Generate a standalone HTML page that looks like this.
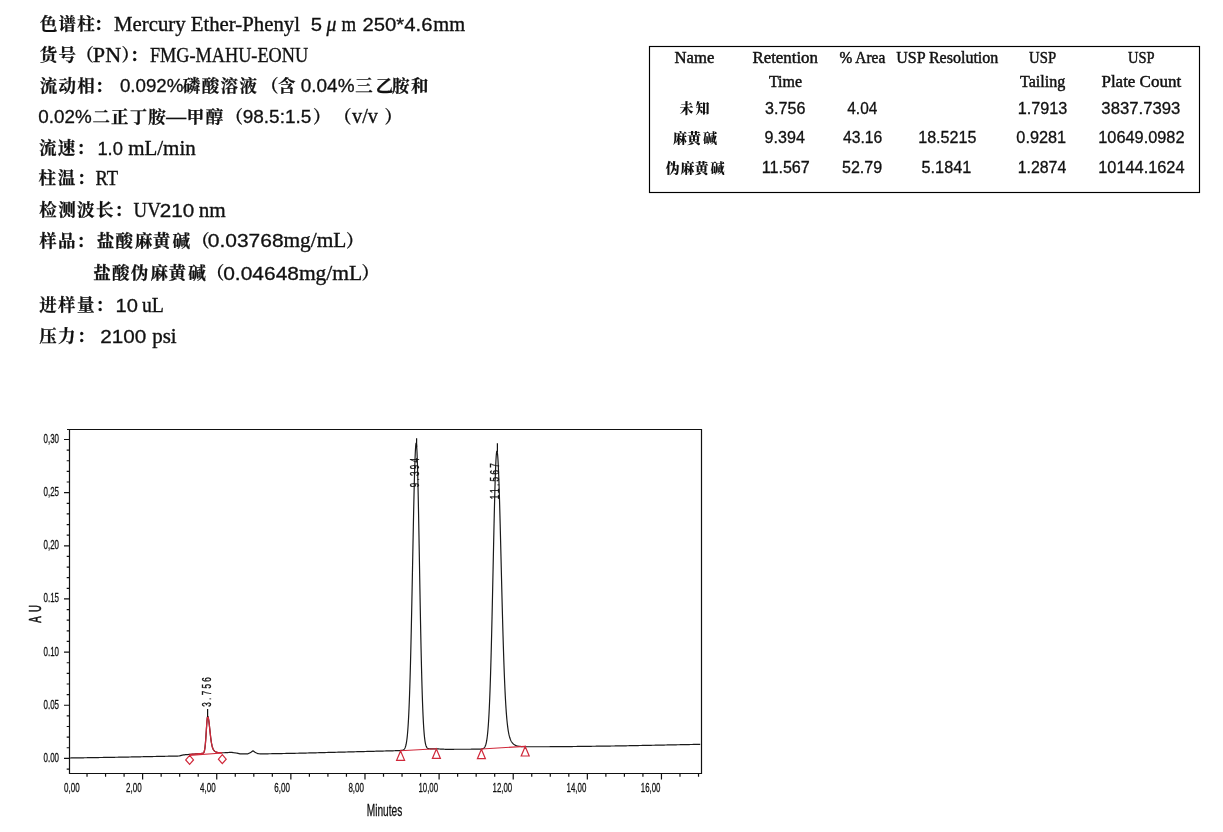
<!DOCTYPE html>
<html><head><meta charset="utf-8">
<style>
html,body{margin:0;padding:0;background:#fff;}
body{width:1223px;height:832px;position:relative;overflow:hidden;}
svg{position:absolute;left:0;top:0;}
.cj{font-family:"Noto Serif CJK SC",serif;font-size:17.5px;font-weight:700;fill:#111;stroke:#111;stroke-width:0.25px;}
.lt{font-family:"Liberation Serif",serif;font-size:20.5px;fill:#111;stroke:#111;stroke-width:0.35px;}
.it{font-style:italic;}
.ln{font-family:"Liberation Sans",sans-serif;font-size:19px;fill:#111;stroke:#111;stroke-width:0.3px;}
.tl{font-family:"Liberation Serif",serif;font-size:16px;fill:#111;stroke:#111;stroke-width:0.45px;}
.tn{font-family:"Liberation Sans",sans-serif;font-size:16px;fill:#111;stroke:#111;stroke-width:0.3px;}
.tc{font-family:"Noto Serif CJK SC",serif;font-size:14px;font-weight:900;fill:#111;}
.ax{font-family:"Liberation Sans",sans-serif;font-size:12.9px;fill:#111;stroke:#111;stroke-width:0.3px;}
.ax2{font-family:"Liberation Sans",sans-serif;font-size:17px;fill:#111;stroke:#111;stroke-width:0.3px;}
.ax3{font-family:"Liberation Sans",sans-serif;font-size:17.2px;fill:#111;stroke:#111;stroke-width:0.55px;}
.pk{font-family:"Liberation Sans",sans-serif;font-size:13px;fill:#111;stroke:#111;stroke-width:0.35px;}
</style></head><body>
<svg width="1223" height="832" viewBox="0 0 1223 832">
<text x="39.70" y="29.90" class="cj">色</text>
<text x="58.45" y="29.90" class="cj">谱</text>
<text x="77.20" y="29.90" class="cj">柱</text>
<text x="94.10" y="29.90" class="cj">：</text>
<text x="114.09" y="30.60" class="lt" textLength="185.89" lengthAdjust="spacingAndGlyphs">Mercury Ether-Phenyl</text>
<text x="310.83" y="30.60" class="ln" textLength="11.28" lengthAdjust="spacingAndGlyphs">5</text>
<text x="326.60" y="30.60" class="lt it" textLength="9.88" lengthAdjust="spacingAndGlyphs">μ</text>
<text x="341.40" y="30.60" class="lt" textLength="14.66" lengthAdjust="spacingAndGlyphs">m</text>
<text x="362.53" y="30.60" class="ln" textLength="69.92" lengthAdjust="spacingAndGlyphs">250*4.6</text>
<text x="433.30" y="30.60" class="lt" textLength="31.81" lengthAdjust="spacingAndGlyphs">mm</text>
<text x="39.70" y="60.90" class="cj">货</text>
<text x="58.45" y="60.90" class="cj">号</text>
<text x="76.30" y="60.90" class="cj">（</text>
<text x="92.82" y="61.60" class="lt" textLength="28.32" lengthAdjust="spacingAndGlyphs">PN</text>
<text x="121.50" y="60.90" class="cj">）</text>
<text x="130.00" y="60.90" class="cj">：</text>
<text x="149.91" y="61.60" class="lt" textLength="158.19" lengthAdjust="spacingAndGlyphs">FMG-MAHU-EONU</text>
<text x="39.70" y="91.50" class="cj">流</text>
<text x="58.45" y="91.50" class="cj">动</text>
<text x="77.20" y="91.50" class="cj">相</text>
<text x="95.00" y="91.50" class="cj">：</text>
<text x="119.91" y="92.20" class="ln" textLength="63.53" lengthAdjust="spacingAndGlyphs">0.092%</text>
<text x="182.80" y="91.50" class="cj">磷</text>
<text x="201.70" y="91.50" class="cj">酸</text>
<text x="220.60" y="91.50" class="cj">溶</text>
<text x="239.50" y="91.50" class="cj">液</text>
<text x="261.00" y="91.50" class="cj">（</text>
<text x="278.00" y="91.50" class="cj">含</text>
<text x="300.80" y="92.20" class="ln" textLength="53.67" lengthAdjust="spacingAndGlyphs">0.04%</text>
<text x="355.20" y="91.50" class="cj">三</text>
<text x="375.80" y="91.50" class="cj">乙</text>
<text x="392.10" y="91.50" class="cj">胺</text>
<text x="411.00" y="91.50" class="cj">和</text>
<text x="38.31" y="123.20" class="ln" textLength="53.36" lengthAdjust="spacingAndGlyphs">0.02%</text>
<text x="92.40" y="122.50" class="cj">二</text>
<text x="111.05" y="122.50" class="cj">正</text>
<text x="129.70" y="122.50" class="cj">丁</text>
<text x="148.35" y="122.50" class="cj">胺</text>
<text x="165.03" y="122.50" class="cj" textLength="22.32" lengthAdjust="spacingAndGlyphs">—</text>
<text x="186.70" y="122.50" class="cj">甲</text>
<text x="205.70" y="122.50" class="cj">醇</text>
<text x="225.50" y="122.50" class="cj">（</text>
<text x="242.70" y="123.20" class="ln" textLength="68.67" lengthAdjust="spacingAndGlyphs">98.5:1.5</text>
<text x="313.00" y="122.50" class="cj">）</text>
<text x="334.00" y="122.50" class="cj">（</text>
<text x="352.00" y="123.20" class="lt" textLength="25.90" lengthAdjust="spacingAndGlyphs">v/v</text>
<text x="384.40" y="122.50" class="cj">）</text>
<text x="39.10" y="154.10" class="cj">流</text>
<text x="57.70" y="154.10" class="cj">速</text>
<text x="76.60" y="154.10" class="cj">：</text>
<text x="97.44" y="154.80" class="ln" textLength="25.47" lengthAdjust="spacingAndGlyphs">1.0</text>
<text x="128.20" y="154.80" class="lt" textLength="67.56" lengthAdjust="spacingAndGlyphs">mL/min</text>
<text x="38.50" y="184.30" class="cj">柱</text>
<text x="57.70" y="184.30" class="cj">温</text>
<text x="77.00" y="184.30" class="cj">：</text>
<text x="95.40" y="185.00" class="lt" textLength="22.58" lengthAdjust="spacingAndGlyphs">RT</text>
<text x="39.20" y="216.00" class="cj">检</text>
<text x="58.15" y="216.00" class="cj">测</text>
<text x="77.10" y="216.00" class="cj">波</text>
<text x="96.05" y="216.00" class="cj">长</text>
<text x="114.60" y="216.00" class="cj">：</text>
<text x="133.58" y="216.70" class="lt" textLength="27.18" lengthAdjust="spacingAndGlyphs">UV</text>
<text x="159.71" y="216.70" class="ln" textLength="34.45" lengthAdjust="spacingAndGlyphs">210</text>
<text x="198.67" y="216.70" class="lt" textLength="27.04" lengthAdjust="spacingAndGlyphs">nm</text>
<text x="39.20" y="246.50" class="cj">样</text>
<text x="58.00" y="246.50" class="cj">品</text>
<text x="76.60" y="246.50" class="cj">：</text>
<text x="96.70" y="246.50" class="cj">盐</text>
<text x="115.40" y="246.50" class="cj">酸</text>
<text x="135.10" y="246.50" class="cj">麻</text>
<text x="152.80" y="246.50" class="cj">黄</text>
<text x="172.50" y="246.50" class="cj">碱</text>
<text x="191.90" y="246.50" class="cj">（</text>
<text x="207.80" y="247.20" class="ln" textLength="75.76" lengthAdjust="spacingAndGlyphs">0.03768</text>
<text x="283.50" y="247.20" class="lt" textLength="62.92" lengthAdjust="spacingAndGlyphs">mg/mL</text>
<text x="346.10" y="246.50" class="cj">）</text>
<text x="93.20" y="279.30" class="cj">盐</text>
<text x="112.00" y="279.30" class="cj">酸</text>
<text x="130.80" y="279.30" class="cj">伪</text>
<text x="150.60" y="279.30" class="cj">麻</text>
<text x="168.40" y="279.30" class="cj">黄</text>
<text x="188.20" y="279.30" class="cj">碱</text>
<text x="206.70" y="279.30" class="cj">（</text>
<text x="223.20" y="280.00" class="ln" textLength="75.76" lengthAdjust="spacingAndGlyphs">0.04648</text>
<text x="298.90" y="280.00" class="lt" textLength="63.33" lengthAdjust="spacingAndGlyphs">mg/mL</text>
<text x="361.60" y="279.30" class="cj">）</text>
<text x="39.20" y="311.10" class="cj">进</text>
<text x="58.05" y="311.10" class="cj">样</text>
<text x="76.90" y="311.10" class="cj">量</text>
<text x="95.50" y="311.10" class="cj">：</text>
<text x="115.64" y="311.80" class="ln" textLength="22.36" lengthAdjust="spacingAndGlyphs">10</text>
<text x="141.90" y="311.80" class="lt" textLength="21.95" lengthAdjust="spacingAndGlyphs">uL</text>
<text x="39.20" y="342.00" class="cj">压</text>
<text x="58.00" y="342.00" class="cj">力</text>
<text x="77.00" y="342.00" class="cj">：</text>
<text x="100.21" y="342.70" class="ln" textLength="45.99" lengthAdjust="spacingAndGlyphs">2100</text>
<text x="152.20" y="342.70" class="lt" textLength="24.46" lengthAdjust="spacingAndGlyphs">psi</text>
<rect x="649.5" y="46.5" width="550" height="146" fill="none" stroke="#000" stroke-width="1.15"/>
<text x="674.56" y="62.7" class="tl" textLength="39.75" lengthAdjust="spacingAndGlyphs">Name</text>
<text x="752.45" y="62.7" class="tl" textLength="65.48" lengthAdjust="spacingAndGlyphs">Retention</text>
<text x="839.60" y="62.7" class="tl" textLength="45.61" lengthAdjust="spacingAndGlyphs">% Area</text>
<text x="896.20" y="62.7" class="tl" textLength="102.09" lengthAdjust="spacingAndGlyphs">USP Resolution</text>
<text x="1029.10" y="62.7" class="tl" textLength="27.03" lengthAdjust="spacingAndGlyphs">USP</text>
<text x="1128.00" y="62.7" class="tl" textLength="26.52" lengthAdjust="spacingAndGlyphs">USP</text>
<text x="768.90" y="87.1" class="tl" textLength="33.20" lengthAdjust="spacingAndGlyphs">Time</text>
<text x="1020.00" y="87.1" class="tl" textLength="45.29" lengthAdjust="spacingAndGlyphs">Tailing</text>
<text x="1101.44" y="87.1" class="tl" textLength="79.68" lengthAdjust="spacingAndGlyphs">Plate Count</text>
<text x="765.09" y="113.6" class="tn" textLength="40.25" lengthAdjust="spacingAndGlyphs">3.756</text>
<text x="847.30" y="113.6" class="tn" textLength="29.94" lengthAdjust="spacingAndGlyphs">4.04</text>
<text x="1017.69" y="113.6" class="tn" textLength="49.56" lengthAdjust="spacingAndGlyphs">1.7913</text>
<text x="1101.36" y="113.6" class="tn" textLength="78.91" lengthAdjust="spacingAndGlyphs">3837.7393</text>
<text x="764.59" y="143.4" class="tn" textLength="40.25" lengthAdjust="spacingAndGlyphs">9.394</text>
<text x="843.00" y="143.4" class="tn" textLength="39.25" lengthAdjust="spacingAndGlyphs">43.16</text>
<text x="918.19" y="143.4" class="tn" textLength="58.15" lengthAdjust="spacingAndGlyphs">18.5215</text>
<text x="1016.38" y="143.4" class="tn" textLength="49.77" lengthAdjust="spacingAndGlyphs">0.9281</text>
<text x="1098.28" y="143.4" class="tn" textLength="86.26" lengthAdjust="spacingAndGlyphs">10649.0982</text>
<text x="761.69" y="172.9" class="tn" textLength="48.06" lengthAdjust="spacingAndGlyphs">11.567</text>
<text x="841.99" y="172.9" class="tn" textLength="40.25" lengthAdjust="spacingAndGlyphs">52.79</text>
<text x="921.59" y="172.9" class="tn" textLength="49.67" lengthAdjust="spacingAndGlyphs">5.1841</text>
<text x="1017.71" y="172.9" class="tn" textLength="48.53" lengthAdjust="spacingAndGlyphs">1.2874</text>
<text x="1098.28" y="172.9" class="tn" textLength="86.26" lengthAdjust="spacingAndGlyphs">10144.1624</text>
<text x="679.40" y="113.30" class="tc">未</text>
<text x="695.50" y="113.30" class="tc">知</text>
<text x="672.90" y="143.10" class="tc">麻</text>
<text x="687.00" y="143.10" class="tc">黄</text>
<text x="703.10" y="143.10" class="tc">碱</text>
<text x="665.60" y="172.60" class="tc">伪</text>
<text x="680.53" y="172.60" class="tc">麻</text>
<text x="694.47" y="172.60" class="tc">黄</text>
<text x="710.40" y="172.60" class="tc">碱</text>
<path d="M67.0,429.5 H701.5 V773.5 H69.5 V429.5" fill="none" stroke="#111" stroke-width="1.2"/>
<path d="M66.7,769.03 H69.5 M64.0,758.40 H69.5 M66.7,747.77 H69.5 M66.7,737.14 H69.5 M66.7,726.51 H69.5 M66.7,715.88 H69.5 M64.0,705.25 H69.5 M66.7,694.62 H69.5 M66.7,683.99 H69.5 M66.7,673.36 H69.5 M66.7,662.73 H69.5 M64.0,652.10 H69.5 M66.7,641.47 H69.5 M66.7,630.84 H69.5 M66.7,620.21 H69.5 M66.7,609.58 H69.5 M64.0,598.95 H69.5 M66.7,588.32 H69.5 M66.7,577.69 H69.5 M66.7,567.06 H69.5 M66.7,556.43 H69.5 M64.0,545.80 H69.5 M66.7,535.17 H69.5 M66.7,524.54 H69.5 M66.7,513.91 H69.5 M66.7,503.28 H69.5 M64.0,492.65 H69.5 M66.7,482.02 H69.5 M66.7,471.39 H69.5 M66.7,460.76 H69.5 M66.7,450.13 H69.5 M64.0,439.50 H69.5 M87.03,773.5 V776.7 M105.56,773.5 V776.7 M124.09,773.5 V776.7 M142.62,773.5 V779.5 M161.15,773.5 V776.7 M179.68,773.5 V776.7 M198.21,773.5 V776.7 M216.74,773.5 V779.5 M235.27,773.5 V776.7 M253.80,773.5 V776.7 M272.33,773.5 V776.7 M290.86,773.5 V779.5 M309.39,773.5 V776.7 M327.92,773.5 V776.7 M346.45,773.5 V776.7 M364.98,773.5 V779.5 M383.51,773.5 V776.7 M402.04,773.5 V776.7 M420.57,773.5 V776.7 M439.10,773.5 V779.5 M457.63,773.5 V776.7 M476.16,773.5 V776.7 M494.69,773.5 V776.7 M513.22,773.5 V779.5 M531.75,773.5 V776.7 M550.28,773.5 V776.7 M568.81,773.5 V776.7 M587.34,773.5 V779.5 M605.87,773.5 V776.7 M624.40,773.5 V776.7 M642.93,773.5 V776.7 M661.46,773.5 V779.5 M679.99,773.5 V776.7 M698.52,773.5 V776.7" fill="none" stroke="#111" stroke-width="1.2"/>
<text x="59" y="442.9" text-anchor="end" class="ax" textLength="15.5" lengthAdjust="spacingAndGlyphs">0,30</text>
<text x="59" y="496.0" text-anchor="end" class="ax" textLength="15.5" lengthAdjust="spacingAndGlyphs">0,25</text>
<text x="59" y="549.2" text-anchor="end" class="ax" textLength="15.5" lengthAdjust="spacingAndGlyphs">0,20</text>
<text x="59" y="602.4" text-anchor="end" class="ax" textLength="15.5" lengthAdjust="spacingAndGlyphs">0.15</text>
<text x="59" y="655.5" text-anchor="end" class="ax" textLength="15.5" lengthAdjust="spacingAndGlyphs">0.10</text>
<text x="59" y="708.6" text-anchor="end" class="ax" textLength="15.5" lengthAdjust="spacingAndGlyphs">0.05</text>
<text x="59" y="761.8" text-anchor="end" class="ax" textLength="15.5" lengthAdjust="spacingAndGlyphs">0.00</text>
<text x="79.6" y="792.3" text-anchor="end" class="ax" textLength="15.6" lengthAdjust="spacingAndGlyphs">0,00</text>
<text x="141.6" y="792.3" text-anchor="end" class="ax" textLength="15.6" lengthAdjust="spacingAndGlyphs">2,00</text>
<text x="215.7" y="792.3" text-anchor="end" class="ax" textLength="15.6" lengthAdjust="spacingAndGlyphs">4,00</text>
<text x="289.9" y="792.3" text-anchor="end" class="ax" textLength="15.6" lengthAdjust="spacingAndGlyphs">6,00</text>
<text x="364.0" y="792.3" text-anchor="end" class="ax" textLength="15.6" lengthAdjust="spacingAndGlyphs">8,00</text>
<text x="438.1" y="792.3" text-anchor="end" class="ax" textLength="19.7" lengthAdjust="spacingAndGlyphs">10,00</text>
<text x="512.2" y="792.3" text-anchor="end" class="ax" textLength="19.7" lengthAdjust="spacingAndGlyphs">12,00</text>
<text x="586.3" y="792.3" text-anchor="end" class="ax" textLength="19.7" lengthAdjust="spacingAndGlyphs">14,00</text>
<text x="660.5" y="792.3" text-anchor="end" class="ax" textLength="19.7" lengthAdjust="spacingAndGlyphs">16,00</text>
<text x="384.5" y="815.6" text-anchor="middle" class="ax2" textLength="35.5" lengthAdjust="spacingAndGlyphs">Minutes</text>
<text transform="translate(40.7,613.9) rotate(-90) scale(0.56,1)" text-anchor="middle" class="ax3" textLength="31.6" lengthAdjust="spacing">A U</text>
<path d="M69.50,758.00 L70.50,757.98 L71.50,757.97 L72.50,757.95 L73.50,757.94 L74.50,757.92 L75.50,757.90 L76.50,757.89 L77.50,757.87 L78.50,757.86 L79.50,757.84 L80.50,757.83 L81.50,757.81 L82.50,757.79 L83.50,757.78 L84.50,757.76 L85.50,757.75 L86.50,757.73 L87.50,757.71 L88.50,757.70 L89.50,757.68 L90.50,757.67 L91.50,757.65 L92.50,757.64 L93.50,757.62 L94.50,757.60 L95.50,757.59 L96.50,757.57 L97.50,757.56 L98.50,757.54 L99.50,757.52 L100.50,757.51 L101.50,757.49 L102.50,757.48 L103.50,757.46 L104.50,757.45 L105.50,757.43 L106.50,757.41 L107.50,757.40 L108.50,757.38 L109.50,757.37 L110.50,757.35 L111.50,757.33 L112.50,757.32 L113.50,757.30 L114.50,757.29 L115.50,757.27 L116.50,757.26 L117.50,757.24 L118.50,757.22 L119.50,757.21 L120.50,757.19 L121.50,757.17 L122.50,757.15 L123.50,757.13 L124.50,757.11 L125.50,757.09 L126.50,757.07 L127.50,757.05 L128.50,757.03 L129.50,757.01 L130.50,756.99 L131.50,756.97 L132.50,756.95 L133.50,756.93 L134.50,756.91 L135.50,756.88 L136.50,756.86 L137.50,756.84 L138.50,756.82 L139.50,756.80 L140.50,756.78 L141.50,756.76 L142.50,756.74 L143.50,756.72 L144.50,756.70 L145.50,756.68 L146.50,756.66 L147.50,756.64 L148.50,756.62 L149.50,756.60 L150.50,756.58 L151.50,756.56 L152.50,756.54 L153.50,756.52 L154.50,756.50 L155.50,756.48 L156.50,756.46 L157.50,756.44 L158.50,756.42 L159.50,756.40 L160.50,756.38 L161.50,756.36 L162.50,756.34 L163.50,756.32 L164.50,756.29 L165.50,756.27 L166.50,756.25 L167.50,756.23 L168.50,756.21 L169.50,756.19 L170.50,756.17 L171.50,756.15 L172.50,756.13 L173.50,756.11 L174.50,756.09 L175.50,756.07 L176.50,756.05 L177.50,756.03 L178.50,756.01 L179.50,755.86 L180.50,755.59 L181.50,755.31 L182.50,755.04 L183.50,754.86 L184.50,754.79 L185.50,754.71 L185.75,754.69 L186.00,754.67 L186.25,754.65 L186.50,754.63 L186.75,754.61 L187.00,754.60 L187.25,754.58 L187.50,754.56 L187.75,754.54 L188.00,754.52 L188.25,754.50 L188.50,754.48 L188.75,754.46 L189.00,754.44 L189.25,754.42 L189.50,754.40 L189.75,754.39 L190.00,754.37 L190.25,754.35 L190.50,754.33 L190.75,754.31 L191.00,754.29 L191.25,754.27 L191.50,754.25 L191.75,754.23 L192.00,754.21 L192.25,754.20 L192.50,754.18 L192.75,754.16 L193.00,754.14 L193.25,754.12 L193.50,754.10 L193.75,754.08 L194.00,754.06 L194.25,754.04 L194.50,754.02 L194.75,754.00 L195.00,753.99 L195.25,753.97 L195.50,753.95 L195.75,753.93 L196.00,753.91 L196.25,753.89 L196.50,753.87 L196.75,753.85 L197.00,753.83 L197.25,753.81 L197.50,753.80 L197.75,753.78 L198.00,753.76 L198.25,753.74 L198.50,753.72 L198.75,753.70 L199.00,753.68 L199.25,753.66 L199.50,753.64 L199.75,753.62 L200.00,753.60 L200.25,753.59 L200.50,753.57 L200.75,753.55 L201.00,753.53 L201.25,753.51 L201.50,753.49 L201.75,753.47 L202.00,753.44 L202.25,753.41 L202.50,753.37 L202.75,753.32 L203.00,753.24 L203.25,753.11 L203.50,752.91 L203.75,752.60 L204.00,752.13 L204.25,751.46 L204.50,750.50 L204.75,749.17 L205.00,747.41 L205.25,745.16 L205.50,742.39 L205.75,739.14 L206.00,735.50 L206.25,731.60 L206.50,727.67 L206.75,723.96 L207.00,720.76 L207.25,718.32 L207.50,716.87 L207.75,716.51 L208.00,716.83 L208.25,717.61 L208.50,718.81 L208.75,720.37 L209.00,722.24 L209.25,724.35 L209.50,726.62 L209.75,728.98 L210.00,731.35 L210.25,733.67 L210.50,735.89 L210.75,737.97 L211.00,739.89 L211.25,741.62 L211.50,743.15 L211.75,744.50 L212.00,745.67 L212.25,746.67 L212.50,747.52 L212.75,748.25 L213.00,748.86 L213.25,749.37 L213.50,749.81 L213.75,750.18 L214.00,750.50 L214.25,750.78 L214.50,751.02 L214.75,751.23 L215.00,751.41 L215.25,751.58 L215.50,751.72 L215.75,751.85 L216.00,751.97 L216.25,752.08 L216.50,752.17 L216.75,752.26 L217.00,752.34 L217.25,752.40 L217.50,752.46 L217.75,752.51 L218.00,752.56 L218.25,752.60 L218.50,752.63 L218.75,752.66 L219.00,752.68 L219.25,752.70 L219.50,752.72 L219.75,752.73 L220.00,752.74 L220.25,752.75 L220.50,752.76 L220.75,752.76 L221.00,752.76 L221.25,752.77 L221.50,752.77 L221.75,752.77 L222.00,752.76 L222.25,752.76 L222.50,752.76 L222.75,752.76 L223.00,752.75 L223.25,752.75 L223.50,752.75 L223.75,752.74 L224.00,752.74 L224.25,752.73 L224.50,752.73 L224.75,752.72 L225.00,752.72 L225.25,752.71 L225.50,752.71 L225.75,752.70 L226.00,752.70 L226.25,752.68 L226.50,752.66 L226.75,752.64 L227.00,752.62 L227.25,752.60 L227.50,752.58 L227.75,752.56 L228.00,752.54 L228.25,752.52 L228.50,752.50 L228.75,752.48 L229.00,752.46 L229.25,752.44 L229.50,752.42 L229.75,752.40 L230.00,752.38 L231.00,752.30 L232.00,752.44 L233.00,752.58 L234.00,752.72 L235.00,752.86 L236.00,753.00 L237.00,753.20 L238.00,753.40 L239.00,753.60 L240.00,753.80 L241.00,753.80 L242.00,753.80 L243.00,753.80 L244.00,753.80 L245.00,753.80 L246.00,753.80 L247.00,753.80 L248.00,753.80 L249.00,753.32 L250.00,752.84 L251.00,752.24 L252.00,751.52 L253.00,750.80 L254.00,751.52 L255.00,752.24 L256.00,752.82 L257.00,753.26 L258.00,753.70 L259.00,753.75 L260.00,753.80 L261.00,753.85 L262.00,753.90 L263.00,753.88 L264.00,753.86 L265.00,753.84 L266.00,753.83 L267.00,753.81 L268.00,753.79 L269.00,753.77 L270.00,753.75 L271.00,753.73 L272.00,753.72 L273.00,753.70 L274.00,753.68 L275.00,753.66 L276.00,753.64 L277.00,753.62 L278.00,753.61 L279.00,753.59 L280.00,753.57 L281.00,753.55 L282.00,753.53 L283.00,753.51 L284.00,753.49 L285.00,753.48 L286.00,753.46 L287.00,753.44 L288.00,753.42 L289.00,753.40 L290.00,753.38 L291.00,753.37 L292.00,753.35 L293.00,753.33 L294.00,753.31 L295.00,753.29 L296.00,753.27 L297.00,753.26 L298.00,753.24 L299.00,753.22 L300.00,753.20 L301.00,753.17 L302.00,753.15 L303.00,753.12 L304.00,753.10 L305.00,753.07 L306.00,753.04 L307.00,753.02 L308.00,752.99 L309.00,752.97 L310.00,752.94 L311.00,752.91 L312.00,752.89 L313.00,752.86 L314.00,752.84 L315.00,752.81 L316.00,752.78 L317.00,752.76 L318.00,752.73 L319.00,752.71 L320.00,752.68 L321.00,752.65 L322.00,752.63 L323.00,752.60 L324.00,752.58 L325.00,752.55 L326.00,752.52 L327.00,752.50 L328.00,752.47 L329.00,752.45 L330.00,752.42 L331.00,752.39 L332.00,752.37 L333.00,752.34 L334.00,752.32 L335.00,752.29 L336.00,752.26 L337.00,752.24 L338.00,752.21 L339.00,752.19 L340.00,752.16 L341.00,752.13 L342.00,752.11 L343.00,752.08 L344.00,752.06 L345.00,752.03 L346.00,752.00 L347.00,751.98 L348.00,751.95 L349.00,751.93 L350.00,751.90 L351.00,751.87 L352.00,751.85 L353.00,751.82 L354.00,751.80 L355.00,751.77 L356.00,751.74 L357.00,751.72 L358.00,751.69 L359.00,751.67 L360.00,751.64 L361.00,751.61 L362.00,751.59 L363.00,751.56 L364.00,751.54 L365.00,751.51 L366.00,751.48 L367.00,751.46 L368.00,751.43 L369.00,751.41 L370.00,751.38 L371.00,751.35 L372.00,751.33 L373.00,751.30 L374.00,751.28 L375.00,751.25 L376.00,751.22 L377.00,751.20 L378.00,751.17 L379.00,751.15 L380.00,751.12 L381.00,751.09 L382.00,751.07 L383.00,751.04 L384.00,751.02 L385.00,750.99 L386.00,750.96 L387.00,750.94 L388.00,750.91 L389.00,750.89 L390.00,750.86 L391.00,750.83 L392.00,750.81 L393.00,750.78 L394.00,750.76 L394.25,750.75 L394.50,750.74 L394.75,750.74 L395.00,750.73 L395.25,750.72 L395.50,750.72 L395.75,750.71 L396.00,750.70 L396.25,750.70 L396.50,750.69 L396.75,750.68 L397.00,750.68 L397.25,750.67 L397.50,750.66 L397.75,750.66 L398.00,750.65 L398.25,750.64 L398.50,750.64 L398.75,750.63 L399.00,750.62 L399.25,750.61 L399.50,750.61 L399.75,750.60 L400.00,750.59 L400.25,750.57 L400.50,750.55 L400.75,750.52 L401.00,750.50 L401.25,750.47 L401.50,750.44 L401.75,750.40 L402.00,750.35 L402.25,750.30 L402.50,750.23 L402.75,750.15 L403.00,750.06 L403.25,749.94 L403.50,749.79 L403.75,749.61 L404.00,749.39 L404.25,749.12 L404.50,748.79 L404.75,748.39 L405.00,747.90 L405.25,747.31 L405.50,746.61 L405.75,745.76 L406.00,744.75 L406.25,743.56 L406.50,742.14 L406.75,740.49 L407.00,738.56 L407.25,736.31 L407.50,733.72 L407.75,730.74 L408.00,727.33 L408.25,723.47 L408.50,719.10 L408.75,714.20 L409.00,708.72 L409.25,702.65 L409.50,695.95 L409.75,688.60 L410.00,680.59 L410.25,671.93 L410.50,662.61 L410.75,652.65 L411.00,642.08 L411.25,630.95 L411.50,619.30 L411.75,607.21 L412.00,594.75 L412.25,582.02 L412.50,569.12 L412.75,556.18 L413.00,543.31 L413.25,530.65 L413.50,518.34 L413.75,506.52 L414.00,495.32 L414.25,484.90 L414.50,475.39 L414.75,466.90 L415.00,459.56 L415.25,453.47 L415.50,448.70 L415.75,445.34 L416.00,443.42 L416.25,442.99 L416.50,444.26 L416.75,447.30 L417.00,452.06 L417.25,458.47 L417.50,466.40 L417.75,475.73 L418.00,486.31 L418.25,497.96 L418.50,510.50 L418.75,523.74 L419.00,537.50 L419.25,551.58 L419.50,565.81 L419.75,580.01 L420.00,594.02 L420.25,607.71 L420.50,620.95 L420.75,633.63 L421.00,645.66 L421.25,656.99 L421.50,667.55 L421.75,677.33 L422.00,686.31 L422.25,694.48 L422.50,701.87 L422.75,708.50 L423.00,714.40 L423.25,719.62 L423.50,724.20 L423.75,728.19 L424.00,731.64 L424.25,734.60 L424.50,737.13 L424.75,739.27 L425.00,741.07 L425.25,742.58 L425.50,743.83 L425.75,744.85 L426.00,745.69 L426.25,746.37 L426.50,746.92 L426.75,747.36 L427.00,747.71 L427.25,747.98 L427.50,748.19 L427.75,748.36 L428.00,748.48 L428.25,748.57 L428.50,748.64 L428.75,748.69 L429.00,748.72 L429.25,748.74 L429.50,748.76 L429.75,748.76 L430.00,748.76 L430.25,748.78 L430.50,748.79 L430.75,748.80 L431.00,748.81 L431.25,748.82 L431.50,748.82 L431.75,748.83 L432.00,748.84 L432.25,748.84 L432.50,748.85 L432.75,748.85 L433.00,748.86 L433.25,748.86 L433.50,748.87 L433.75,748.87 L434.00,748.88 L434.25,748.88 L434.50,748.89 L434.75,748.89 L435.00,748.90 L435.25,748.90 L435.50,748.91 L435.75,748.91 L436.00,748.92 L436.25,748.92 L436.50,748.93 L436.75,748.93 L437.00,748.94 L437.25,748.94 L437.50,748.95 L437.75,748.95 L438.00,748.96 L438.25,748.96 L438.50,748.97 L439.50,748.99 L440.50,749.03 L441.50,749.09 L442.50,749.15 L443.50,749.21 L444.50,749.27 L445.50,749.30 L446.50,749.30 L447.50,749.29 L448.50,749.29 L449.50,749.29 L450.50,749.28 L451.50,749.28 L452.50,749.28 L453.50,749.28 L454.50,749.27 L455.50,749.27 L456.50,749.27 L457.50,749.26 L458.50,749.26 L459.50,749.26 L460.50,749.26 L461.50,749.25 L462.50,749.25 L463.50,749.25 L464.50,749.24 L465.50,749.24 L466.50,749.24 L467.50,749.24 L468.50,749.23 L469.50,749.23 L470.50,749.23 L471.50,749.22 L472.50,749.22 L473.50,749.22 L474.50,749.22 L475.50,749.21 L475.75,749.21 L476.00,749.21 L476.25,749.21 L476.50,749.21 L476.75,749.21 L477.00,749.21 L477.25,749.21 L477.50,749.21 L477.75,749.21 L478.00,749.20 L478.25,749.20 L478.50,749.20 L478.75,749.20 L479.00,749.20 L479.25,749.20 L479.50,749.19 L479.75,749.19 L480.00,749.18 L480.25,749.16 L480.50,749.14 L480.75,749.12 L481.00,749.09 L481.25,749.06 L481.50,749.02 L481.75,748.98 L482.00,748.94 L482.25,748.88 L482.50,748.81 L482.75,748.73 L483.00,748.63 L483.25,748.51 L483.50,748.37 L483.75,748.20 L484.00,747.99 L484.25,747.73 L484.50,747.43 L484.75,747.06 L485.00,746.62 L485.25,746.10 L485.50,745.47 L485.75,744.73 L486.00,743.85 L486.25,742.82 L486.50,741.62 L486.75,740.22 L487.00,738.59 L487.25,736.71 L487.50,734.55 L487.75,732.08 L488.00,729.27 L488.25,726.09 L488.50,722.51 L488.75,718.49 L489.00,714.02 L489.25,709.05 L489.50,703.57 L489.75,697.55 L490.00,690.98 L490.25,683.84 L490.50,676.14 L490.75,667.88 L491.00,659.05 L491.25,649.70 L491.50,639.83 L491.75,629.49 L492.00,618.73 L492.25,607.60 L492.50,596.18 L492.75,584.54 L493.00,572.77 L493.25,560.95 L493.50,549.20 L493.75,537.63 L494.00,526.33 L494.25,515.44 L494.50,505.05 L494.75,495.30 L495.00,486.27 L495.25,478.09 L495.50,470.85 L495.75,464.63 L496.00,459.52 L496.25,455.57 L496.50,452.84 L496.75,451.36 L497.00,451.13 L497.25,451.96 L497.50,453.78 L497.75,456.57 L498.00,460.30 L498.25,464.94 L498.50,470.43 L498.75,476.71 L499.00,483.73 L499.25,491.42 L499.50,499.70 L499.75,508.50 L500.00,517.72 L500.25,527.30 L500.50,537.16 L500.75,547.20 L501.00,557.36 L501.25,567.55 L501.50,577.71 L501.75,587.78 L502.00,597.68 L502.25,607.37 L502.50,616.79 L502.75,625.91 L503.00,634.68 L503.25,643.09 L503.50,651.10 L503.75,658.69 L504.00,665.87 L504.25,672.62 L504.50,678.93 L504.75,684.82 L505.00,690.30 L505.25,695.36 L505.50,700.03 L505.75,704.33 L506.00,708.26 L506.25,711.85 L506.50,715.12 L506.75,718.10 L507.00,720.79 L507.25,723.23 L507.50,725.43 L507.75,727.41 L508.00,729.20 L508.25,730.80 L508.50,732.25 L508.75,733.54 L509.00,734.71 L509.25,735.76 L509.50,736.70 L509.75,737.55 L510.00,738.32 L510.25,739.01 L510.50,739.64 L510.75,740.20 L511.00,740.72 L511.25,741.19 L511.50,741.62 L511.75,742.02 L512.00,742.38 L512.25,742.71 L512.50,743.02 L512.75,743.30 L513.00,743.56 L513.25,743.81 L513.50,744.03 L513.75,744.24 L514.00,744.44 L514.25,744.62 L514.50,744.78 L514.75,744.94 L515.00,745.08 L515.25,745.22 L515.50,745.34 L515.75,745.46 L516.00,745.56 L516.25,745.66 L516.50,745.75 L516.75,745.84 L517.00,745.92 L517.25,745.99 L517.50,746.05 L517.75,746.11 L518.00,746.16 L518.25,746.21 L518.50,746.26 L518.75,746.29 L519.00,746.33 L519.25,746.36 L520.25,746.47 L521.25,746.57 L522.25,746.65 L523.25,746.69 L524.25,746.73 L525.25,746.75 L526.25,746.76 L527.25,746.77 L528.25,746.77 L529.25,746.77 L530.25,746.77 L531.25,746.77 L532.25,746.77 L533.25,746.77 L534.25,746.76 L535.25,746.76 L536.25,746.76 L537.25,746.76 L538.25,746.75 L539.25,746.75 L540.25,746.75 L541.25,746.75 L542.25,746.74 L543.25,746.74 L544.25,746.74 L545.25,746.74 L546.25,746.73 L547.25,746.73 L548.25,746.73 L549.25,746.73 L550.25,746.72 L551.25,746.72 L552.25,746.72 L553.25,746.72 L554.25,746.71 L555.25,746.71 L556.25,746.71 L557.25,746.71 L558.25,746.70 L559.25,746.70 L560.25,746.70 L561.25,746.68 L562.25,746.67 L563.25,746.66 L564.25,746.64 L565.25,746.63 L566.25,746.62 L567.25,746.60 L568.25,746.59 L569.25,746.58 L570.25,746.56 L571.25,746.55 L572.25,746.54 L573.25,746.52 L574.25,746.51 L575.25,746.50 L576.25,746.48 L577.25,746.47 L578.25,746.46 L579.25,746.44 L580.25,746.43 L581.25,746.42 L582.25,746.40 L583.25,746.39 L584.25,746.38 L585.25,746.36 L586.25,746.35 L587.25,746.34 L588.25,746.32 L589.25,746.31 L590.25,746.30 L591.25,746.28 L592.25,746.27 L593.25,746.26 L594.25,746.24 L595.25,746.23 L596.25,746.22 L597.25,746.20 L598.25,746.19 L599.25,746.18 L600.25,746.16 L601.25,746.15 L602.25,746.14 L603.25,746.12 L604.25,746.11 L605.25,746.10 L606.25,746.08 L607.25,746.07 L608.25,746.06 L609.25,746.04 L610.25,746.03 L611.25,746.02 L612.25,746.00 L613.25,745.99 L614.25,745.98 L615.25,745.96 L616.25,745.95 L617.25,745.94 L618.25,745.92 L619.25,745.91 L620.25,745.90 L621.25,745.88 L622.25,745.86 L623.25,745.84 L624.25,745.82 L625.25,745.80 L626.25,745.78 L627.25,745.76 L628.25,745.74 L629.25,745.72 L630.25,745.70 L631.25,745.68 L632.25,745.66 L633.25,745.64 L634.25,745.62 L635.25,745.60 L636.25,745.58 L637.25,745.56 L638.25,745.54 L639.25,745.52 L640.25,745.50 L641.25,745.48 L642.25,745.46 L643.25,745.44 L644.25,745.42 L645.25,745.40 L646.25,745.38 L647.25,745.36 L648.25,745.34 L649.25,745.32 L650.25,745.30 L651.25,745.28 L652.25,745.26 L653.25,745.24 L654.25,745.23 L655.25,745.21 L656.25,745.19 L657.25,745.17 L658.25,745.15 L659.25,745.13 L660.25,745.11 L661.25,745.09 L662.25,745.07 L663.25,745.05 L664.25,745.03 L665.25,745.01 L666.25,744.99 L667.25,744.97 L668.25,744.95 L669.25,744.93 L670.25,744.91 L671.25,744.89 L672.25,744.87 L673.25,744.85 L674.25,744.83 L675.25,744.81 L676.25,744.79 L677.25,744.77 L678.25,744.75 L679.25,744.73 L680.25,744.71 L681.25,744.69 L682.25,744.67 L683.25,744.65 L684.25,744.63 L685.25,744.61 L686.25,744.59 L687.25,744.57 L688.25,744.56 L689.25,744.54 L690.25,744.52 L691.25,744.50 L692.25,744.48 L693.25,744.46 L694.25,744.44 L695.25,744.42 L696.25,744.40 L697.25,744.38 L698.25,744.36 L699.25,744.34 L700.25,744.32" fill="none" stroke="#1a1a1a" stroke-width="1.2" stroke-linejoin="round"/>
<path d="M189.60,754.40 L189.85,754.38 L190.10,754.36 L190.35,754.34 L190.60,754.32 L190.85,754.30 L191.10,754.28 L191.35,754.26 L191.60,754.24 L191.85,754.23 L192.10,754.21 L192.35,754.19 L192.60,754.17 L192.85,754.15 L193.10,754.13 L193.35,754.11 L193.60,754.09 L193.85,754.07 L194.10,754.05 L194.35,754.04 L194.60,754.02 L194.85,754.00 L195.10,753.98 L195.35,753.96 L195.60,753.94 L195.85,753.92 L196.10,753.90 L196.35,753.88 L196.60,753.86 L196.85,753.84 L197.10,753.83 L197.35,753.81 L197.60,753.79 L197.85,753.77 L198.10,753.75 L198.35,753.73 L198.60,753.71 L198.85,753.69 L199.10,753.67 L199.35,753.65 L199.60,753.64 L199.85,753.62 L200.10,753.60 L200.35,753.58 L200.60,753.56 L200.85,753.54 L201.10,753.52 L201.35,753.50 L201.60,753.48 L201.85,753.46 L202.10,753.43 L202.35,753.40 L202.60,753.35 L202.85,753.29 L203.10,753.19 L203.35,753.04 L203.60,752.80 L203.85,752.43 L204.10,751.89 L204.35,751.11 L204.60,750.01 L204.85,748.52 L205.10,746.57 L205.35,744.11 L205.60,741.15 L205.85,737.73 L206.10,733.96 L206.35,730.02 L206.60,726.14 L206.85,722.60 L207.10,719.68 L207.35,717.61 L207.60,716.59 L207.85,716.59 L208.10,717.09 L208.35,718.04 L208.60,719.39 L208.85,721.09 L209.10,723.06 L209.35,725.25 L209.60,727.56 L209.85,729.93 L210.10,732.29 L210.35,734.57 L210.60,736.74 L210.85,738.76 L211.10,740.60 L211.35,742.26 L211.60,743.72 L211.85,744.99 L212.10,746.09 L212.35,747.03 L212.60,747.83 L212.85,748.50 L213.10,749.07 L213.35,749.56 L213.60,749.97 L213.85,750.32 L214.10,750.62 L214.35,750.88 L214.60,751.10 L214.85,751.30 L215.10,751.48 L215.35,751.64 L215.60,751.78 L215.85,751.90 L216.10,752.02 L216.35,752.12 L216.60,752.21 L216.85,752.29 L217.10,752.36 L217.35,752.43 L217.60,752.48 L217.85,752.53 L218.10,752.58 L218.35,752.61 L218.60,752.64 L218.85,752.67 L219.10,752.69 L219.35,752.71 L219.60,752.72 L219.85,752.74 L220.10,752.75 L220.35,752.75 L220.60,752.76 L220.85,752.76 L221.10,752.77 L221.35,752.77 L221.60,752.77 L221.85,752.77 L222.10,752.76" fill="none" stroke="#d0283a" stroke-width="1.3"/>
<path d="M189.4,755.4 L222.3,753.0 M400.5,750.8 L436.3,748.8 M481.4,749.0 L525.2,746.4" fill="none" stroke="#d0283a" stroke-width="1.1"/>
<path d="M400.6,750.9 L404.6,760.3 L396.6,760.3 Z M436.4,749.0 L440.4,758.4 L432.4,758.4 Z M481.4,749.3 L485.4,758.7 L477.4,758.7 Z M525.2,746.6 L529.2,756.0 L521.2,756.0 Z M189.6,755.4 L193.5,759.9 L189.6,764.4 L185.7,759.9 Z M222.3,754.7 L226.2,759.2 L222.3,763.7 L218.4,759.2 Z" fill="none" stroke="#d0283a" stroke-width="1.2"/>
<path d="M207.6,709 V717 M416.6,438.3 V447 M497.4,443.2 V452" fill="none" stroke="#111" stroke-width="1.2"/>
<text transform="translate(210.6,706.7) rotate(-90) scale(0.62,1)" class="pk" textLength="47.58" lengthAdjust="spacing">3.756</text>
<text transform="translate(418.6,487.2) rotate(-90) scale(0.62,1)" class="pk" textLength="47.10" lengthAdjust="spacing">9.394</text>
<text transform="translate(499.2,499.2) rotate(-90) scale(0.62,1)" class="pk" textLength="58.06" lengthAdjust="spacing">11.567</text>
</svg>
</body></html>
